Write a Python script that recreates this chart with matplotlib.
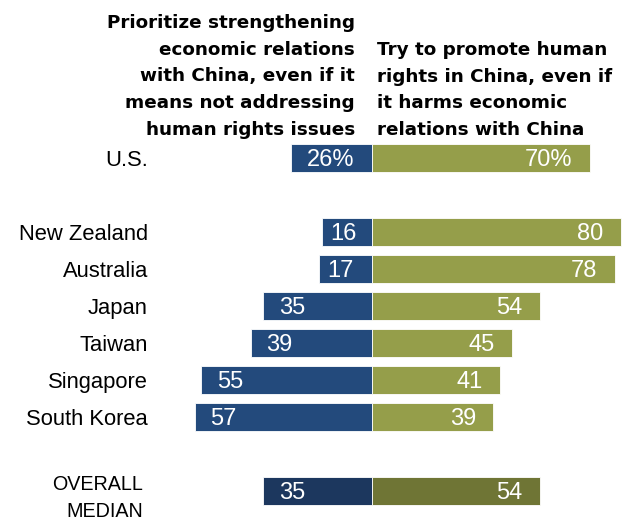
import matplotlib
matplotlib.use("Agg")
import matplotlib.pyplot as plt
import numpy as np

countries = ["U.S.", "New Zealand", "Australia", "Japan", "Taiwan", "Singapore", "South Korea", "OVERALL\nMEDIAN"]
economic = [26, 16, 17, 35, 39, 55, 57, 35]
human_rights = [70, 80, 78, 54, 45, 41, 39, 54]
value_suffix = ["%", "", "", "", "", "", "", ""]
row_pos = [0, 2, 3, 4, 5, 6, 7, 9]

left_header = "Prioritize strengthening\neconomic relations\nwith China, even if it\nmeans not addressing\nhuman rights issues"
right_header = "Try to promote human\nrights in China, even if\nit harms economic\nrelations with China"

blue = "#234a7c"
olive = "#959e4a"
blue_dark = "#1c375e"
olive_dark = "#6f7535"

W, H = 622, 521
fig = plt.figure(figsize=(W / 100, H / 100), dpi=100)
ax = fig.add_axes([0, 0, 1, 1])
px = 3.11  # pixels per percentage point
x0 = 372
ax.set_xlim(-x0 / px, (W - x0) / px)
row_px = 37
y0 = 158
ax.set_ylim((H - y0) / row_px, -y0 / row_px)
ax.axis("off")

reg = ["Liberation Sans", "DejaVu Sans"]
bold = ["DejaVu Sans"]
fs_lab = 15.8
fs_val = 17
cap = 0.716  # cap-height fraction of Liberation Sans


def cap_shift(size_pt):
    # vertical offset (in row units) to center cap height on the bar
    return cap * size_pt * 100 / 72 / 2 / row_px


for i, (c, e, h, suf, y) in enumerate(zip(countries, economic, human_rights, value_suffix, row_pos)):
    last = i == len(countries) - 1
    cb = blue_dark if last else blue
    co = olive_dark if last else olive
    ax.barh(y, -e, height=0.78, color=cb, edgecolor="white", linewidth=0.6)
    ax.barh(y, h, height=0.78, color=co, edgecolor="white", linewidth=0.6)
    pad_l = 5.1 if e > 25 else 2.6
    yv = y + cap_shift(fs_val)
    ax.text(-e + pad_l, yv, f"{e}{suf}", color="white", fontsize=fs_val, family=reg,
            ha="left", va="baseline")
    ax.text(h - 5.5, yv, f"{h}{suf}", color="white", fontsize=fs_val, family=reg,
            ha="right", va="baseline")
    if last:
        for k, line in enumerate(c.split("\n")):
            ax.text((143 - x0) / px, y - 0.02 + k * 26.5 / row_px, line, color="black",
                    fontsize=14.2, family=reg, ha="right", va="baseline")
    else:
        ax.text((148 - x0) / px, y + cap_shift(fs_lab), c, color="black", fontsize=fs_lab,
                family=reg, ha="right", va="baseline")

base = (135 - y0) / row_px
step = 26.75 / row_px
for hdr, xpix, ha in [(left_header, 355, "right"), (right_header, 377, "left")]:
    lines = hdr.split("\n")
    n = len(lines)
    for k, line in enumerate(lines):
        ax.text((xpix - x0) / px, base - (n - 1 - k) * step, line, fontsize=13.2,
                fontweight="bold", family=bold, ha=ha, va="baseline")

fig.savefig("out.png", dpi=100)
